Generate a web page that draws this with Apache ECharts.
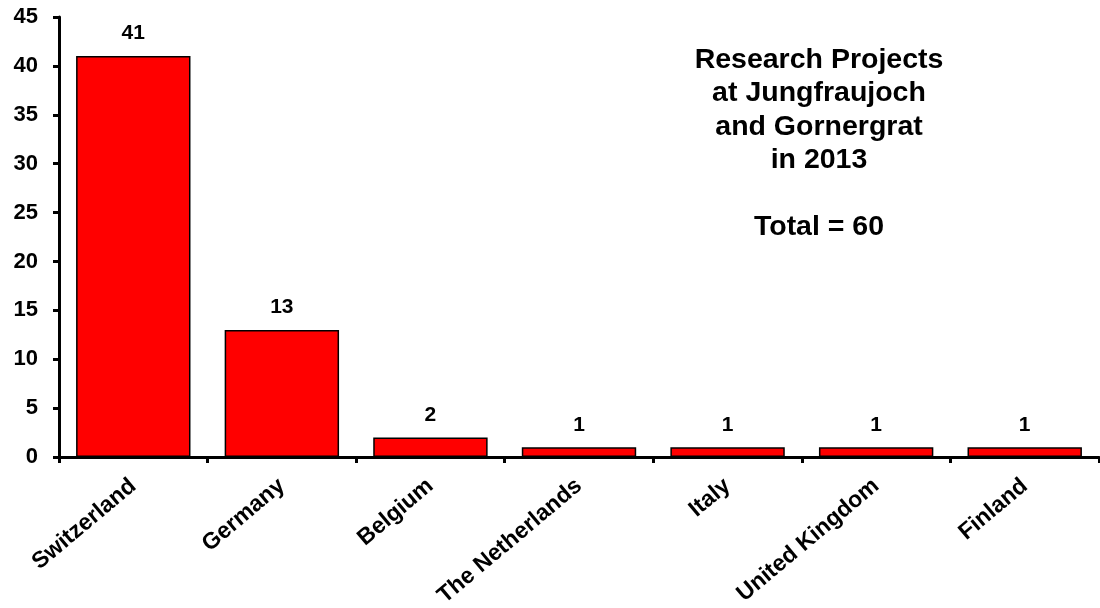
<!DOCTYPE html>
<html><head><meta charset="utf-8">
<script src="https://cdn.jsdelivr.net/npm/echarts@6/dist/echarts.min.js"></script>
<style>html,body{margin:0;padding:0;background:#fff}#c{width:1100px;height:608px}</style>
</head><body><div id="c"></div>
<script>
const categories = ["Switzerland","Germany","Belgium","The Netherlands","Italy","United Kingdom","Finland"];
const projects = [41,13,2,1,1,1,1];
const titleLines = ["Research Projects","at Jungfraujoch","and Gornergrat","in 2013","","Total = 60"];

const chart = echarts.init(document.getElementById('c'));
const F = '"Liberation Sans", Arial, sans-serif';
chart.setOption({
  animation:false,
  backgroundColor:'#fff',
  grid:{left:59,right:1,top:17,bottom:151,containLabel:false,outerBoundsMode:'none'},
  title:{text:titleLines.join('\n'),left:814,top:38,textAlign:'center',
    textStyle:{fontFamily:F,fontWeight:'bold',fontSize:28.5,lineHeight:33.5,color:'#000'}},
  xAxis:{type:'category',data:categories,
    axisLine:{lineStyle:{color:'#000',width:3}},
    axisTick:{show:true,length:6,lineStyle:{color:'#000',width:3}},
    axisLabel:{rotate:40,interval:0,margin:26,fontFamily:F,fontWeight:'bold',fontSize:23,color:'#000'}},
  yAxis:{type:'value',min:0,max:45,interval:5,
    axisLine:{show:true,lineStyle:{color:'#000',width:3}},
    axisTick:{show:true,length:6,lineStyle:{color:'#000',width:3}},
    splitLine:{show:false},
    axisLabel:{margin:21,fontFamily:F,fontWeight:'bold',fontSize:22,color:'#000'}},
  series:[{type:'bar',data:projects,barCategoryGap:'23%',
    itemStyle:{color:'#ff0000',borderColor:'#000',borderWidth:1.5},
    label:{show:true,position:'top',distance:12,fontFamily:F,fontWeight:'bold',fontSize:21,color:'#000'}}]
});
</script></body></html>
